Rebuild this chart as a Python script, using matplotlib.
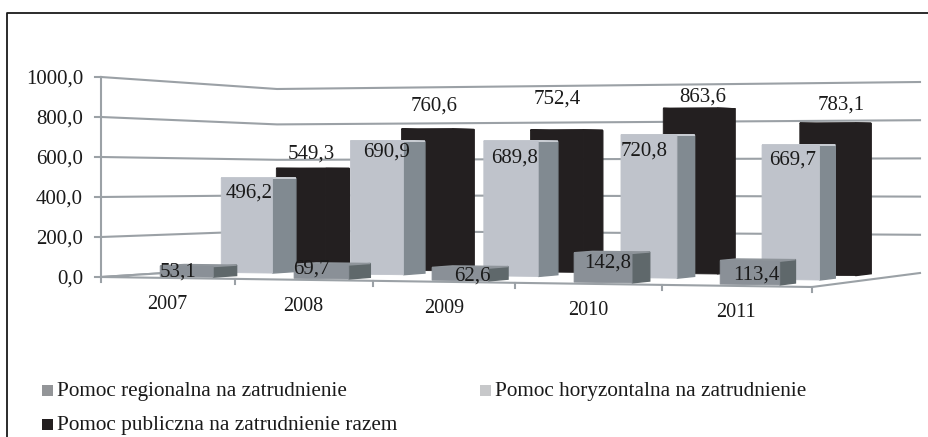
# Pomoc publiczna na zatrudnienie - 3D column chart drawn by hand in a pixel-sized axes

import numpy as np
from matplotlib import pyplot as plt

years = ['2007', '2008', '2009', '2010', '2011']
regional = [53.1, 69.7, 62.6, 142.8, 113.4]
horizontal = [496.2, 690.9, 689.8, 720.8, 669.7]
total = [549.3, 760.6, 752.4, 863.6, 783.1]
y_ticks = [0, 200, 400, 600, 800, 1000]
legend_names = ['Pomoc regionalna na zatrudnienie',
                'Pomoc horyzontalna na zatrudnienie',
                'Pomoc publiczna na zatrudnienie razem']

# label centres in the picture (pixels)
regional_label_pos = [(178, 270), (311, 267), (472, 274), (608, 261), (756, 273)]
horizontal_label_pos = [(249, 191), (387, 150), (515, 156), (644, 149), (793, 158)]
total_label_pos = [(311, 152), (434, 104), (557, 97), (703, 95), (841, 103)]

# floor corners in pixels
front_left = np.array([101, 277.0])
front_right = np.array([812, 287.0])
back_right = np.array([920, 273.0])
back_left = np.array([277, 266.0])
# pixel height of the 1000 level at the same corners
h_front_left, h_front_right, h_back_right, h_back_left = 200, 212, 191, 177
# how much the categories widen towards the right
widen = 0.0144

GRID = '#9ba1a6'
FONT = 'Liberation Serif'
TEXT = '#1a1a1a'


def project(u, d, v):
    t = (u + widen * u * (u - 5)) / 5
    left = front_left + (back_left - front_left) * d
    right = front_right + (back_right - front_right) * d
    x, y = left + (right - left) * t
    front = h_front_left + (h_front_right - h_front_left) * u / 5
    back = h_back_left + (h_back_right - h_back_left) * u / 5
    scale = front + (back - front) * d
    return x, y - scale * v / 1000


def draw_bar(ax, u0, u1, d0, d1, v, front_col, side_col, top_col, z):
    front = [project(u0, d0, 0), project(u1, d0, 0), project(u1, d0, v), project(u0, d0, v)]
    side = [project(u1, d0, 0), project(u1, d1, 0), project(u1, d1, v), project(u1, d0, v)]
    top = [project(u0, d0, v), project(u1, d0, v), project(u1, d1, v), project(u0, d1, v)]
    ax.fill(*zip(*side), fc=side_col, ec=side_col, lw=1, zorder=z)
    ax.fill(*zip(*top), fc=top_col, ec=top_col, lw=1, zorder=z)
    ax.fill(*zip(*front), fc=front_col, ec=front_col, lw=0.6, zorder=z)


def main():
    fig = plt.figure(figsize=(9.29, 4.37), dpi=100)
    ax = fig.add_axes([0, 0, 1, 1])
    ax.set_xlim(0, 929)
    ax.set_ylim(437, 0)
    ax.axis('off')

    # outer frame, only left and top are in the picture
    ax.plot([7, 7, 929], [437, 12.5, 12.5], color=TEXT, lw=1.3)

    # walls
    for v in y_ticks:
        pts = [project(0, 0, v), project(0, 1, v), project(5, 1, v)]
        if v == 0:
            pts = pts[:2]
        ax.plot(*zip(*pts), color=GRID, lw=1.5, zorder=1)
        x, y = project(0, 0, v)
        ax.plot([x - 6, x], [y, y], color=GRID, lw=1.5, zorder=1)
        ax.text(83, y + 2.5, f'{v},0', ha='right', va='center', family=FONT, fontsize=15, color=TEXT)
    ax.plot(*zip(*[project(0, 0, 0), project(0, 0, 1000)]), color=GRID, lw=1.5, zorder=1)

    # floor
    floor = [project(0, 0, 0), project(5, 0, 0), project(5, 1, 0), project(0, 1, 0)]
    ax.fill(*zip(*floor), color='white', lw=0, zorder=1.5)
    edge = [project(0, 1, 0), project(0, 0, 0), project(5, 0, 0), project(5, 1, 0)]
    ax.plot(*zip(*edge), color=GRID, lw=1.5, zorder=1.6)
    for i in range(len(years) + 1):
        x, y = project(i, 0, 0)
        ax.plot([x, x], [y, y + 5], color=GRID, lw=1.5, zorder=1.6)
    for i, year in enumerate(years):
        x, y = project(i + 0.5, 0, 0)
        ax.text(x, y + 27, year, ha='center', va='center', family=FONT, fontsize=14.5, color=TEXT)

    # bars, back row first
    rows = [(total, 0.78, 0.92, '#231f20', '#231f20', '#231f20', 2),
            (horizontal, 0.46, 0.60, '#bfc3cb', '#818a91', '#c8ccd2', 3),
            (regional, 0.105, 0.245, '#8a9097', '#5f686b', '#8f959b', 4)]
    for values, d0, d1, front_col, side_col, top_col, z in rows:
        for i, v in enumerate(values):
            draw_bar(ax, i + 0.31, i + 0.71, d0, d1, v, front_col, side_col, top_col, z)

    # data labels
    for values, positions in [(regional, regional_label_pos),
                              (horizontal, horizontal_label_pos),
                              (total, total_label_pos)]:
        for v, (x, y) in zip(values, positions):
            ax.text(x, y + 2, f'{v:.1f}'.replace('.', ','), ha='center', va='center',
                    family=FONT, fontsize=15, color=TEXT, zorder=6)

    # legend
    swatches = [(42, 390.5, '#939598'), (480, 390.5, '#c7c8ca'), (42, 424.5, '#231f20')]
    for name, (x, y, col) in zip(legend_names, swatches):
        ax.fill([x, x + 11, x + 11, x], [y - 5.5, y - 5.5, y + 5.5, y + 5.5], color=col, lw=0)
        ax.text(x + 15, y + 1, name, ha='left', va='center', family=FONT, fontsize=15.3, color=TEXT)

    fig.savefig('out.png', dpi=100)
    return


if __name__ == "__main__":
    main()
